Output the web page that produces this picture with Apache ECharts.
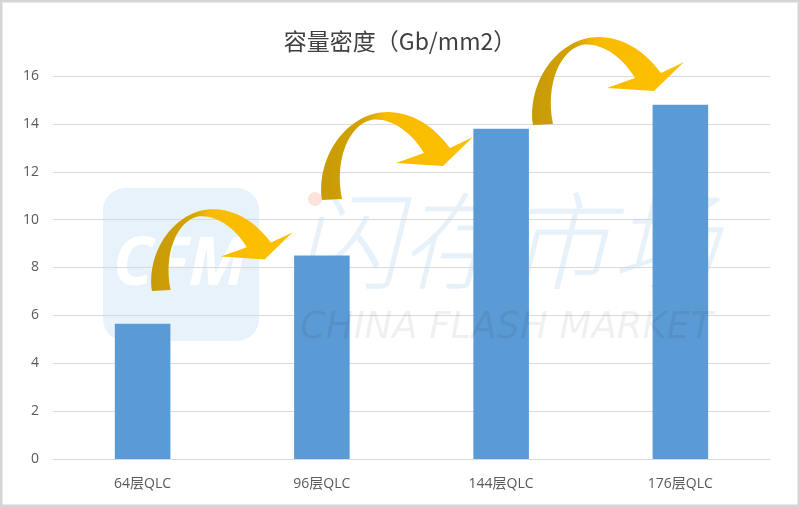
<!DOCTYPE html>
<html>
<head>
<meta charset="utf-8">
<script src="https://cdn.jsdelivr.net/npm/echarts@6/dist/echarts.min.js"></script>
<style>
html,body{margin:0;padding:0;background:#fff;}
#main{width:800px;height:507px;}
</style>
</head>
<body>
<div id="main"></div>
<script>
const categories = ['64层QLC', '96层QLC', '144层QLC', '176层QLC'];
const densityValues = [5.65, 8.5, 13.8, 14.8];
const titleText = '容量密度（Gb/mm2）';
const watermarkCN = '闪存市场';
const watermarkEN = 'CHINA FLASH MARKET';
const logoText = 'CFM';

// curved arrow shape (decorative)
function arrowPath(dx, dy, s) {
  const P = (x, y) => ((x - 533) * s + 533 + dx).toFixed(1) + ' ' + ((y - 125) * s + 125 + dy).toFixed(1);
  return 'M ' + P(533,125) + ' C ' + P(527,80) + ' ' + P(560,36) + ' ' + P(600,37) +
    ' C ' + P(630,38) + ' ' + P(650,58) + ' ' + P(661,73) +
    ' L ' + P(684,62) + ' L ' + P(654,91) + ' L ' + P(607,88) + ' L ' + P(635,78) +
    ' C ' + P(622,56) + ' ' + P(600,42) + ' ' + P(582,45) +
    ' C ' + P(560,50) + ' ' + P(545,85) + ' ' + P(553,124) + ' Z';
}
echarts.graphic.registerShape('arrowA', echarts.graphic.extendPath(arrowPath(-381, 166, 0.93), {}));
echarts.graphic.registerShape('arrowB', echarts.graphic.extendPath(arrowPath(-211, 75, 1), {}));
echarts.graphic.registerShape('arrowC', echarts.graphic.extendPath(arrowPath(0, 0, 1), {}));

const arrowFill = {
  type: 'linear', x: 0, y: 0, x2: 1, y2: 0,
  colorStops: [
    { offset: 0, color: '#c79a08' },
    { offset: 0.28, color: '#d4a300' },
    { offset: 0.42, color: '#f7bb00' },
    { offset: 1, color: '#ffc000' }
  ]
};

const chart = echarts.init(document.getElementById('main'));

const option = {
  backgroundColor: '#ffffff',
  animation: false,
  title: {
    text: titleText,
    left: 'center',
    top: 25,
    textStyle: {
      fontFamily: '"Noto Sans CJK SC", "Open Sans", sans-serif',
      fontSize: 23,
      fontWeight: 'normal',
      color: '#404040'
    }
  },
  grid: { left: 53, right: 30, top: 76, bottom: 48, containLabel: false },
  xAxis: {
    type: 'category',
    data: categories,
    axisLine: { show: true, lineStyle: { color: '#d9d9d9', width: 1 } },
    axisTick: { show: false },
    axisLabel: {
      margin: 18,
      fontSize: 14,
      color: '#595959',
      fontFamily: '"Open Sans", "Noto Sans CJK SC", sans-serif'
    }
  },
  yAxis: {
    type: 'value',
    min: 0,
    max: 16,
    interval: 2,
    axisLine: { show: false },
    axisTick: { show: false },
    splitLine: { lineStyle: { color: '#d9d9d9', width: 1 } },
    axisLabel: {
      margin: 14,
      fontSize: 14,
      color: '#595959',
      fontFamily: '"Open Sans", sans-serif'
    }
  },
  series: [{
    type: 'bar',
    data: densityValues,
    barWidth: '31%',
    itemStyle: { color: '#5b9bd5' },
    z: 5
  }],
  graphic: [
    { type: 'rect', z: -10, silent: true,
      shape: { x: 1, y: 1, width: 798, height: 505 },
      style: { fill: 'none', stroke: '#d6d6d6', lineWidth: 3 } },
    { type: 'rect', z: -5, silent: true,
      shape: { x: 103, y: 188, width: 156, height: 153, r: 22 },
      style: { fill: 'rgba(91,160,230,0.14)' } },
    { type: 'text', z: -4, silent: true, x: 113, y: 233,
      style: { text: logoText, fill: '#ffffff', font: 'italic 700 66px "Open Sans", sans-serif' } },
    { type: 'text', z: -4, silent: true, x: 294, y: 188,
      style: { text: watermarkCN, fill: 'rgba(91,160,220,0.15)', font: 'italic 300 106px "Noto Sans CJK SC", sans-serif' } },
    { type: 'text', z: 20, silent: true, x: 300, y: 310,
      style: { text: watermarkEN, fill: 'rgba(0,0,0,0.06)', font: 'italic 37px "DejaVu Sans", sans-serif' } },
    { type: 'circle', z: -3, silent: true,
      shape: { cx: 315, cy: 199, r: 7 }, style: { fill: '#fbe3da' } },
    { type: 'arrowA', z: 10, silent: true, style: { fill: arrowFill } },
    { type: 'arrowB', z: 10, silent: true, style: { fill: arrowFill } },
    { type: 'arrowC', z: 10, silent: true, style: { fill: arrowFill } }
  ]
};
chart.setOption(option);
</script>
</body>
</html>
